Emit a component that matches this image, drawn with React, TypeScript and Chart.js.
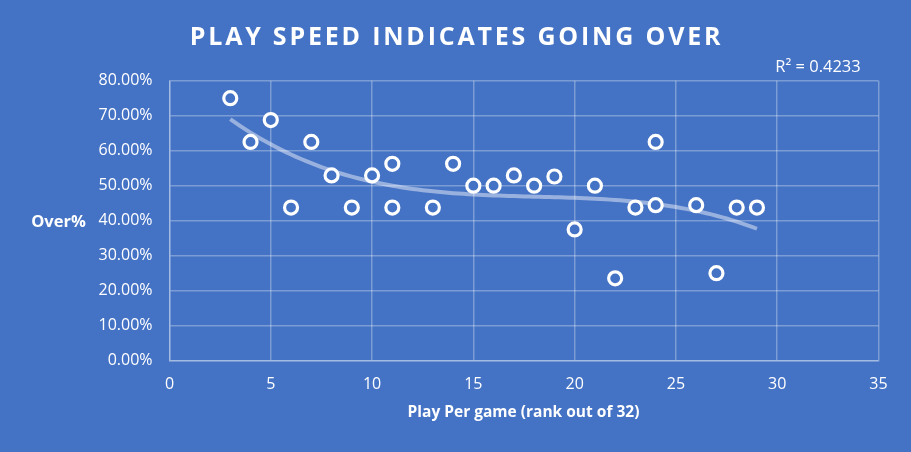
import React, { useEffect, useRef } from "react";
import { Chart, registerables } from "chart.js";

Chart.register(...registerables);

const chartTitle = "PLAY SPEED INDICATES GOING OVER";
const xAxisTitle = "Play Per game (rank out of 32)";
const yAxisTitle = "Over%";
const r2Label = "R\u00B2 = 0.4233";

const playRank: number[] = [3, 4, 5, 6, 7, 8, 9, 10, 11, 11, 13, 14, 15, 16, 17, 18, 19, 20, 21, 22, 23, 24, 24, 26, 27, 28, 29];
const overPct: number[] = [0.75, 0.625, 0.6875, 0.4375, 0.625, 0.5294, 0.4375, 0.5294, 0.5625, 0.4375, 0.4375, 0.5625, 0.5, 0.5, 0.5294, 0.5, 0.5263, 0.375, 0.5, 0.2353, 0.4375, 0.625, 0.4444, 0.4444, 0.25, 0.4375, 0.4375];

const BG = "#4472C4";
const GRID = "rgba(255,255,255,0.3)";
const FONT = "'Open Sans', 'Noto Sans', sans-serif";

// Polynomial (order 3) least-squares trendline, as Excel computes it
function polyFit(xs: number[], ys: number[], order: number): number[] {
  const n = order + 1;
  const A: number[][] = Array.from({ length: n }, () => new Array(n + 1).fill(0));
  for (let i = 0; i < xs.length; i++) {
    for (let r = 0; r < n; r++) {
      for (let c = 0; c < n; c++) A[r][c] += Math.pow(xs[i], r + c);
      A[r][n] += ys[i] * Math.pow(xs[i], r);
    }
  }
  for (let col = 0; col < n; col++) {
    let piv = col;
    for (let r = col + 1; r < n; r++) if (Math.abs(A[r][col]) > Math.abs(A[piv][col])) piv = r;
    [A[col], A[piv]] = [A[piv], A[col]];
    for (let r = 0; r < n; r++) {
      if (r === col) continue;
      const f = A[r][col] / A[col][col];
      for (let c = col; c <= n; c++) A[r][c] -= f * A[col][c];
    }
  }
  return A.map((row, i) => row[n] / row[i]);
}

export default function App() {
  const ref = useRef<HTMLCanvasElement | null>(null);
  useEffect(() => {
    document.body.style.margin = "0";
    document.body.style.background = BG;
    const canvas = ref.current!;
    const coef = polyFit(playRank, overPct, 3);
    const xMin = Math.min(...playRank);
    const xMax = Math.max(...playRank);
    const trend: { x: number; y: number }[] = [];
    const steps = 104;
    for (let i = 0; i <= steps; i++) {
      const x = xMin + ((xMax - xMin) * i) / steps;
      trend.push({ x, y: coef.reduce((s, c, k) => s + c * Math.pow(x, k), 0) });
    }

    const bgPlugin = {
      id: "bg",
      beforeDraw(chart: any) {
        const { ctx, width, height } = chart;
        ctx.save();
        ctx.fillStyle = BG;
        ctx.fillRect(0, 0, width, height);
        ctx.restore();
      },
      afterDraw(chart: any) {
        const ctx = chart.ctx as CanvasRenderingContext2D;
        ctx.save();
        ctx.fillStyle = "#ffffff";
        ctx.textBaseline = "middle";
        ctx.textAlign = "center";
        // main title
        ctx.font = `bold 25px ${FONT}`;
        (ctx as any).letterSpacing = "2.8px";
        ctx.fillText(chartTitle, 456.5, 38);
        (ctx as any).letterSpacing = "0px";
        // R2
        ctx.font = `16.5px ${FONT}`;
        ctx.fillText(r2Label, 818, 67);
        // y title
        ctx.font = `bold 16.5px ${FONT}`;
        ctx.fillText(yAxisTitle, 58.5, 222);
        // x title
        ctx.font = `bold 15.5px ${FONT}`;
        ctx.fillText(xAxisTitle, 523.5, 413);
        ctx.restore();
      },
    };

    const chart = new Chart(canvas, {
      type: "scatter",
      data: {
        datasets: [
          {
            type: "line",
            data: trend,
            borderColor: "rgba(255,255,255,0.45)",
            borderWidth: 4,
            pointRadius: 0,
            fill: false,
            tension: 0,
            order: 2,
          } as any,
          {
            data: playRank.map((x, i) => ({ x, y: overPct[i] })),
            pointRadius: 6.5,
            pointBorderWidth: 3.2,
            pointBorderColor: "#ffffff",
            pointBackgroundColor: BG,
            order: 1,
          },
        ],
      },
      options: {
        responsive: false,
        animation: false,
        devicePixelRatio: 1,
        layout: { padding: { top: 80.7, right: 32.5, left: 0, bottom: 0 } },
        plugins: { legend: { display: false }, title: { display: false }, tooltip: { enabled: false } },
        scales: {
          x: {
            type: "linear",
            min: 0,
            max: 35,
            ticks: { stepSize: 5, color: "#ffffff", font: { family: FONT, size: 16 }, padding: 14 },
            grid: { color: GRID, drawTicks: false, lineWidth: 1.5 },
            border: { color: GRID, width: 1.5 },
            afterFit(scale: any) {
              scale.height = 91.3;
            },
          },
          y: {
            type: "linear",
            min: 0,
            max: 0.8,
            ticks: {
              stepSize: 0.1,
              color: "#ffffff",
              font: { family: FONT, size: 16 },
              padding: 17,
              callback: (v: any) => (Number(v) * 100).toFixed(2) + "%",
            },
            grid: { color: GRID, drawTicks: false, lineWidth: 1.5 },
            border: { color: GRID, width: 1.5 },
            afterFit(scale: any) {
              scale.width = 169.5;
            },
          },
        },
      },
      plugins: [bgPlugin],
    });
    return () => chart.destroy();
  }, []);
  return (
    <div style={{ position: "fixed", left: 0, top: 0, width: 911, height: 452, background: BG }}>
      <canvas ref={ref} width={911} height={452} style={{ width: 911, height: 452, display: "block" }} />
    </div>
  );
}
